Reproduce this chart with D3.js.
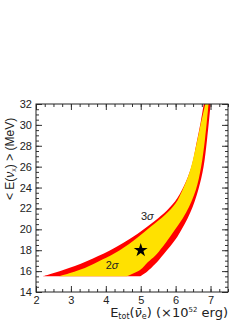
<!DOCTYPE html>
<html><head><meta charset="utf-8">
<script src="https://cdn.jsdelivr.net/npm/d3@7"></script>
<style>
html,body{margin:0;padding:0;background:#fff;}
svg text{font-family:"Liberation Sans",Arial,sans-serif;fill:#222;}
</style></head>
<body><svg id="c" width="249" height="323"></svg>
<script>
// ---- data ----
const xTicks = [2, 3, 4, 5, 6, 7];
const yTicks = [14, 16, 18, 20, 22, 24, 26, 28, 30, 32];
// 3 sigma contour (red): upper-left edge (bottom -> top) and lower-right edge (top -> bottom)
const sigma3Left  = [[2.2,15.5],[2.78,16.1],[3.45,16.95],[4.1,17.95],[4.6,18.9],[5.0,19.8],[5.4,20.8],[5.75,21.8],[6.05,23.0],[6.3,24.6],[6.47,26.2],[6.6,28.3],[6.72,30.3],[6.82,32.3]];
const sigma3Right = [[7.01,32.3],[6.9,28.6],[6.8,26.0],[6.65,23.8],[6.42,21.6],[6.05,19.3],[5.65,17.6],[5.42,16.7],[5.18,15.95],[4.98,15.5]];
// 2 sigma contour (yellow)
const sigma2Left  = [[2.65,15.5],[3.0,15.85],[3.4,16.3],[3.9,17.1],[4.4,18.0],[4.9,19.2],[5.3,20.3],[5.7,21.4],[6.0,22.5],[6.2,23.8],[6.4,25.5],[6.56,27.6],[6.7,29.8],[6.87,32.3]];
const sigma2Right = [[6.95,32.3],[6.84,28.6],[6.73,26.0],[6.58,23.8],[6.3,21.6],[5.84,19.3],[5.42,17.5],[5.2,16.85],[4.98,16.1],[4.6,15.5]];
const bestFit = [5.0, 18.0];
const labels = [{text:"3", x:5.19, y:21.3}, {text:"2", x:4.18, y:16.6}];

// ---- layout ----
const svg = d3.select("#c");
const x = d3.scaleLinear().domain([2, 7.5]).range([36, 228]);
const y = d3.scaleLinear().domain([14, 32]).range([292, 104]);

svg.append("defs").append("clipPath").attr("id","clip")
  .append("rect").attr("x",36).attr("y",104).attr("width",192).attr("height",188);

const g = svg.append("g").attr("clip-path","url(#clip)");
const ln = d3.line().x(d=>x(d[0])).y(d=>y(d[1])).curve(d3.curveCatmullRom);
function band(left,right){
  return ln(left) + ln(right).replace(/^M/,"L") + "Z";
}
g.append("path").attr("d", band(sigma3Left, sigma3Right)).attr("fill","#ff0000");
g.append("path").attr("d", band(sigma2Left, sigma2Right)).attr("fill","#ffe100");

// star
svg.append("path")
  .attr("d", d3.symbol(d3.symbolStar).size(60)())
  .attr("transform", `translate(${x(bestFit[0])},${y(bestFit[1])})`)
  .attr("fill","#000");

// sigma labels
labels.forEach(l=>{
  const t = svg.append("text").attr("x", x(l.x)).attr("y", y(l.y)+4)
    .attr("text-anchor","middle").attr("font-size",11);
  t.append("tspan").text(l.text);
  t.append("tspan").attr("font-style","italic").text("σ");
});

// axes (inward ticks on all four sides)
const xMinor = d3.range(2, 7.5001, 0.25);
const yMinor = d3.range(14, 32.001, 0.5);
function styleAxis(sel){ sel.select(".domain").remove(); sel.selectAll("line").attr("stroke","#333"); }

svg.append("g").attr("transform","translate(0,292)")
  .call(d3.axisBottom(x).tickValues(xMinor).tickSize(-3).tickFormat("")).call(styleAxis);
svg.append("g").attr("transform","translate(0,292)")
  .call(d3.axisBottom(x).tickValues(xTicks).tickSize(-6).tickPadding(4).tickFormat(d3.format("d"))).call(styleAxis)
  .selectAll("text").attr("font-size",11).attr("fill","#222");
svg.append("g").attr("transform","translate(0,104)")
  .call(d3.axisTop(x).tickValues(xMinor).tickSize(-3).tickFormat("")).call(styleAxis);
svg.append("g").attr("transform","translate(0,104)")
  .call(d3.axisTop(x).tickValues(xTicks).tickSize(-6).tickFormat("")).call(styleAxis);

svg.append("g").attr("transform","translate(36,0)")
  .call(d3.axisLeft(y).tickValues(yMinor).tickSize(-3).tickFormat("")).call(styleAxis);
svg.append("g").attr("transform","translate(36,0)")
  .call(d3.axisLeft(y).tickValues(yTicks).tickSize(-6).tickPadding(4).tickFormat(d3.format("d"))).call(styleAxis)
  .selectAll("text").attr("font-size",11).attr("fill","#222");
svg.append("g").attr("transform","translate(228,0)")
  .call(d3.axisRight(y).tickValues(yMinor).tickSize(-3).tickFormat("")).call(styleAxis);
svg.append("g").attr("transform","translate(228,0)")
  .call(d3.axisRight(y).tickValues(yTicks).tickSize(-6).tickFormat("")).call(styleAxis);

svg.append("rect").attr("x",36).attr("y",104).attr("width",192).attr("height",188)
  .attr("fill","none").attr("stroke","#222").attr("stroke-width",1);

// axis titles
const xt = svg.append("text").attr("x",228).attr("y",317).attr("text-anchor","end")
  .attr("font-size",13).style("font-family","'DejaVu Sans',sans-serif");
xt.append("tspan").text("E");
xt.append("tspan").attr("font-size",8).attr("dy",2).text("tot");
xt.append("tspan").attr("dy",-2).text("(");
xt.append("tspan").attr("font-style","italic").text("ν\u0304");
xt.append("tspan").attr("font-size",8).attr("dy",2).text("e");
xt.append("tspan").attr("dy",-2).text(") (×10");
xt.append("tspan").attr("font-size",7).attr("dy",-5).text("52");
xt.append("tspan").attr("dy",5).text(" erg)");

const yt = svg.append("text").attr("transform","translate(14,200) rotate(-90)")
  .attr("text-anchor","start").attr("font-size",12);
yt.append("tspan").text("< E(");
yt.append("tspan").attr("font-style","italic").text("ν");
yt.append("tspan").attr("font-size",7).attr("dy",2).text("x");
yt.append("tspan").attr("dy",-2).text(") > (MeV)");
</script></body></html>
